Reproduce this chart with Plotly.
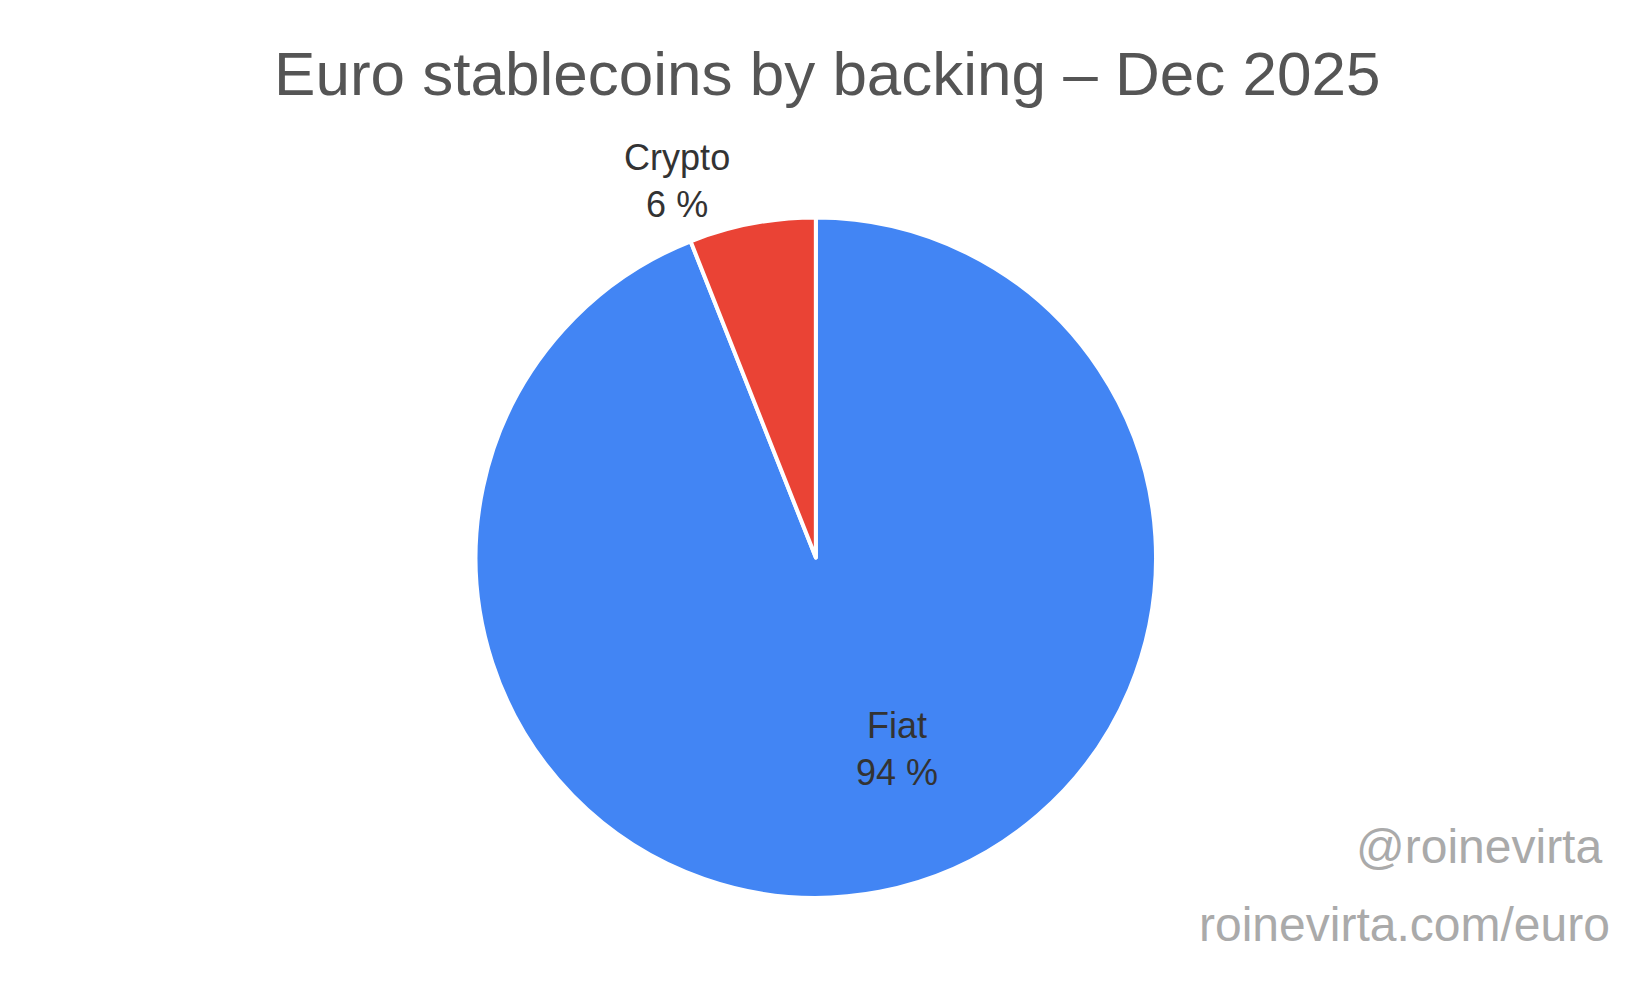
import plotly.graph_objects as go

labels = ["Fiat", "Crypto"]
values = [94, 6]
colors = ["#4285f4", "#ea4335"]

fig = go.Figure(go.Pie(
    labels=labels, values=values, sort=False,
    direction="clockwise", rotation=0,
    marker=dict(colors=colors, line=dict(color="white", width=4)),
    texttemplate=["", "%{label}<br>%{value} %"],
    textposition=["inside", "outside"],
    textfont=dict(size=36, color="#333333", family="Liberation Sans, Arial"),
    domain=dict(x=[0.255, 0.735], y=[0.112, 0.791]),
    showlegend=False,
))

fig.update_layout(
    width=1632, height=1002,
    margin=dict(l=0, r=0, t=0, b=0),
    paper_bgcolor="white",
    font=dict(family="Liberation Sans, Arial"),
    title=dict(text="Euro stablecoins by backing – Dec 2025", x=0.502, xanchor="center",
               y=0.935, yanchor="middle", font=dict(size=62, color="#555555")),
    annotations=[
        dict(text=f"{labels[0]}<br>{values[0]} %", x=0.545, y=0.215, xref="paper", yref="paper",
             showarrow=False, font=dict(size=36, color="#333333")),
        dict(text="@roinevirta", x=0.978, y=0.135, xref="paper", yref="paper",
             xanchor="right", showarrow=False, font=dict(size=48, color="#aaaaaa")),
        dict(text="roinevirta.com/euro", x=0.983, y=0.057, xref="paper", yref="paper",
             xanchor="right", showarrow=False, font=dict(size=48, color="#aaaaaa")),
    ],
)

fig.write_html("out.html")
